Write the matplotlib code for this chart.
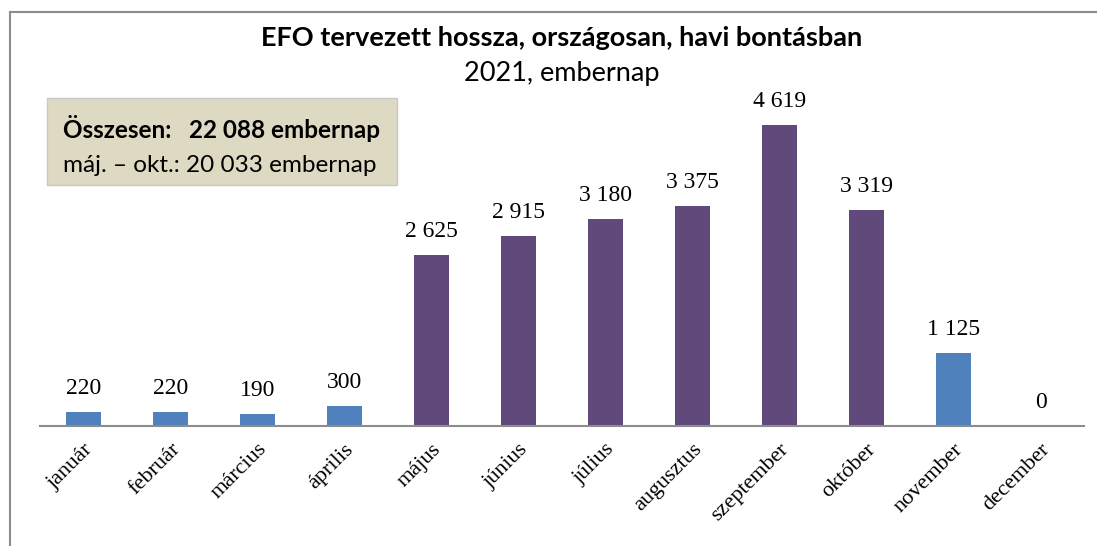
import matplotlib.pyplot as plt
from matplotlib.lines import Line2D
from matplotlib.patches import Rectangle

months = ["január", "február", "március", "április", "május", "június",
          "július", "augusztus", "szeptember", "október", "november",
          "december"]
values = [220, 220, 190, 300, 2625, 2915, 3180, 3375, 4619, 3319, 1125, 0]
# main season (máj. - okt.) gets the darker colour
season = [False, False, False, False, True, True, True, True, True, True,
          False, False]

blue = "#4F81BD"
purple = "#604A7B"
sans = ["Lato", "DejaVu Sans"]
serif = ["Liberation Serif", "DejaVu Serif"]


def fmt(v):
    return "{:,}".format(v).replace(",", " ")


fig = plt.figure(figsize=(10.97, 5.46), dpi=100)
ax = fig.add_axes([40 / 1097, 120 / 546, 1044 / 1097, 326 / 546])

x = range(len(months))
colours = [purple if s else blue for s in season]
ax.bar(x, values, width=0.40, color=colours)
ax.set_xlim(-0.5, len(months) - 0.5)
ax.set_ylim(0, 5000)

for i, v in zip(x, values):
    ax.text(i, v + 200, fmt(v), ha="center", va="bottom",
            fontsize=17, family=serif)

ax.set_xticks(list(x))
ax.set_xticklabels(months, rotation=45, ha="right", rotation_mode="anchor",
                   fontsize=16, family=serif)
ax.tick_params(axis="x", length=0, pad=10)
ax.set_yticks([])
for side in ["top", "right", "left"]:
    ax.spines[side].set_visible(False)
ax.spines["bottom"].set_color("#8C8C8C")
ax.spines["bottom"].set_linewidth(1.5)

# titles
fig.text(562 / 1097, 1 - 38 / 546, "EFO tervezett hossza, országosan, havi bontásban",
         ha="center", va="center", fontsize=19.5, fontweight="bold", family=sans)
fig.text(562 / 1097, 1 - 73 / 546, "2021, embernap",
         ha="center", va="center", fontsize=19.5, family=sans)

# summary box
fig.patches.append(Rectangle((47 / 1097, 1 - 185 / 546), 350 / 1097, 87 / 546,
                             transform=fig.transFigure, facecolor="#DDD9C3",
                             edgecolor="#C8C8C8", linewidth=1))
fig.text(63 / 1097, 1 - 128 / 546, "Összesen:   22 088 embernap",
         ha="left", va="center", fontsize=17.5, fontweight="bold", family=sans)
fig.text(63 / 1097, 1 - 166 / 546, "máj. – okt.: 20 033 embernap",
         ha="left", va="center", fontsize=17.5, family=sans)

# chart frame (only top and left are visible in the crop)
fig.lines.append(Line2D([10 / 1097, 10 / 1097], [0, 1 - 12 / 546],
                        transform=fig.transFigure, color="#8C8C8C", lw=1.5))
fig.lines.append(Line2D([10 / 1097, 1], [1 - 12 / 546, 1 - 12 / 546],
                        transform=fig.transFigure, color="#8C8C8C", lw=1.5))

fig.savefig("out.png", dpi=100)
